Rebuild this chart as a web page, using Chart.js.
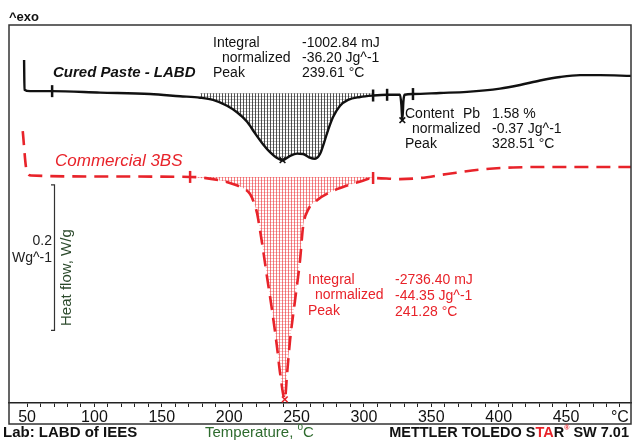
<!DOCTYPE html>
<html>
<head>
<meta charset="utf-8">
<script src="https://cdn.jsdelivr.net/npm/chart.js@4.4.0/dist/chart.umd.min.js"></script>
<style>
  html, body { margin: 0; padding: 0; background: #fff; }
  #wrap { width: 633px; height: 440px; }
</style>
</head>
<body>
<div id="wrap"><canvas id="dsc" width="633" height="440"></canvas></div>
<script>
// --- DATA: Cured Paste - LABD (temperature °C, heat flow W/g) ---
const curedTemp = [47.8, 48.1, 52.2, 68.6, 104.2, 141.3, 163.5, 178.4, 188.0, 198.4, 205.8, 213.3, 219.2, 225.1, 230.3, 235.5, 239.6, 245.2, 250.4, 254.8, 259.3, 263.7, 267.4, 270.4, 273.4, 277.1, 282.3, 288.2, 297.1, 306.8, 317.2, 324.6, 326.8, 327.8, 328.5, 329.3, 330.2, 336.4, 356.5, 376.5, 401.0, 415.9, 430.7, 445.6, 460.4, 475.3, 498.2];
const curedFlow = [0.352, 0.311, 0.309, 0.309, 0.307, 0.305, 0.302, 0.300, 0.297, 0.289, 0.280, 0.267, 0.251, 0.236, 0.225, 0.217, 0.214, 0.220, 0.223, 0.2225, 0.218, 0.216, 0.2225, 0.238, 0.2555, 0.2735, 0.289, 0.297, 0.301, 0.303, 0.304, 0.304, 0.304, 0.290, 0.269, 0.295, 0.304, 0.305, 0.3065, 0.308, 0.3125, 0.3175, 0.3236, 0.3285, 0.331, 0.331, 0.330];

// --- DATA: Commercial 3BS ---
const commTemp = [46.8, 49.6, 53.0, 104.0, 171.0, 195.5, 205.0, 211.0, 215.5, 218.5, 220.7, 222.6, 224.4, 228.1, 231.8, 235.5, 237.8, 241.3, 243.0, 245.2, 248.9, 252.6, 254.8, 258.5, 265.2, 274.9, 287.5, 298.6, 306.8, 326.8, 341.6, 361.7, 386.2, 410.7, 435.9, 498.2];
const commFlow = [0.254, 0.2005, 0.193, 0.1916, 0.191, 0.1854, 0.180, 0.175, 0.1675, 0.155, 0.141, 0.121, 0.100, 0.0533, 0.008, -0.043, -0.079, -0.115, -0.079, -0.0333, 0.0217, 0.0767, 0.122, 0.1455, 0.159, 0.170, 0.1792, 0.1854, 0.1895, 0.188, 0.1895, 0.195, 0.2012, 0.204, 0.2047, 0.2047];

// integration limits and baselines
const curedLimits = [178.4, 306.8];
const curedBaseline = 0.306;
const commLimits = [171.0, 306.8];
const commBaseline = 0.191;

// limit marks and peak marks
const curedTickTemp = [68.6, 306.8, 317.2, 336.4];
const curedTickFlow = [0.309, 0.303, 0.304, 0.305];
const commTickTemp = [171.0, 306.8];
const commTickFlow = [0.191, 0.1895];
const curedPeakTemp = [239.61, 328.51];
const curedPeakFlow = [0.214, 0.269];
const commPeakTemp = [241.28];
const commPeakFlow = [-0.115];

// axis ticks
const tickValues = [50, 60, 70, 80, 90, 100, 110, 120, 130, 140, 150, 160, 170, 180, 190, 200, 210, 220, 230, 240, 250, 260, 270, 280, 290, 300, 310, 320, 330, 340, 350, 360, 370, 380, 390, 400, 410, 420, 430, 440, 450, 460, 470, 480, 490];
const labelValues = [50, 100, 150, 200, 250, 300, 350, 400, 450, 490];
const labelTexts = ['50', '100', '150', '200', '250', '300', '350', '400', '450', '°C'];

const FONT = "'Liberation Sans', Arial, sans-serif";
const RED = '#e8232a';
const INK = '#111';

const pts = (xs, ys) => xs.map((x, i) => ({ x: x, y: ys[i] }));
const between = (xs, ys, lim) => pts(xs, ys).filter(p => p.x >= lim[0] && p.x <= lim[1]);

const canvas = document.getElementById('dsc');
const ctx = canvas.getContext('2d');

function hatch(dark, light) {
    const c = document.createElement('canvas');
    c.width = 3; c.height = 3;
    const g = c.getContext('2d');
    g.fillStyle = light; g.fillRect(0, 0, 3, 1);
    g.fillStyle = dark; g.fillRect(0, 0, 1, 3);
    return ctx.createPattern(c, 'repeat');
}

function put(text, x, y, font, color, align) {
    ctx.font = font;
    ctx.fillStyle = color;
    ctx.textAlign = align || 'left';
    ctx.textBaseline = 'alphabetic';
    ctx.fillText(text, x, y);
    return ctx.measureText(text).width;
}

const decor = {
    id: 'decor',
    beforeDraw(chart) {
        const c = chart.ctx;
        c.save();
        c.fillStyle = '#fff';
        c.fillRect(0, 0, chart.width, chart.height);
        c.restore();
    },
    afterDraw(chart) {
        const a = chart.chartArea;
        const y = chart.scales.y;
        ctx.save();

        // frame
        ctx.strokeStyle = '#333';
        ctx.lineWidth = 1.5;
        ctx.strokeRect(a.left, a.top, a.right - a.left, a.bottom + 21 - a.top);

        put('^exo', 9, 21, `bold 13px ${FONT}`, INK);

        // cured paste labels
        put('Cured Paste - LABD', 53, 77, `italic bold 15px ${FONT}`, INK);
        const f14 = `14px ${FONT}`;
        put('Integral', 213, 47, f14, INK);
        put('normalized', 222, 62, f14, INK);
        put('Peak', 213, 77, f14, INK);
        put('-1002.84 mJ', 302, 47, f14, INK);
        put('-36.20 Jg^-1', 302, 62, f14, INK);
        put('239.61 °C', 302, 77, f14, INK);

        put('Content', 405, 118, f14, INK);
        put('Pb', 463, 118, f14, INK);
        put('1.58 %', 492, 118, f14, INK);
        put('normalized', 412, 133, f14, INK);
        put('-0.37 Jg^-1', 492, 133, f14, INK);
        put('Peak', 405, 148, f14, INK);
        put('328.51 °C', 492, 148, f14, INK);

        // commercial labels
        put('Commercial 3BS', 55, 166, `italic 17px ${FONT}`, RED);
        put('Integral', 308, 284, f14, RED);
        put('normalized', 315, 299, f14, RED);
        put('Peak', 308, 315, f14, RED);
        put('-2736.40 mJ', 395, 284, f14, RED);
        put('-44.35 Jg^-1', 395, 300, f14, RED);
        put('241.28 °C', 395, 316, f14, RED);

        // 0.2 W/g scale bar
        const top = y.getPixelForValue(0.18);
        const bot = y.getPixelForValue(-0.02);
        ctx.strokeStyle = '#333';
        ctx.lineWidth = 1.2;
        ctx.beginPath();
        ctx.moveTo(51, top); ctx.lineTo(54.5, top); ctx.lineTo(54.5, bot); ctx.lineTo(51, bot);
        ctx.stroke();
        put('0.2', 52, 245, f14, '#222', 'right');
        put('Wg^-1', 52, 262, f14, '#222', 'right');
        ctx.save();
        ctx.translate(67, (top + bot) / 2 + 20);
        ctx.rotate(-Math.PI / 2);
        ctx.font = `15px ${FONT}`;
        ctx.fillStyle = '#2c4a2c';
        ctx.textAlign = 'center';
        ctx.textBaseline = 'middle';
        ctx.fillText('Heat flow, W/g', 0, 0);
        ctx.restore();

        // footer
        put('Lab: LABD of IEES', 3, 437, `bold 15px ${FONT}`, INK);
        const green = '#2e6b2e';
        let tx = 205;
        tx += put('Temperature, ', tx, 437, `15px ${FONT}`, green);
        tx += put('o', tx, 430, `10px ${FONT}`, green);
        put('C', tx, 437, `15px ${FONT}`, green);

        const fb = `bold 14.5px ${FONT}`;
        const parts = [
            ['METTLER TOLEDO S', fb, INK, 437],
            ['TA', fb, RED, 437],
            ['R', fb, INK, 437],
            ['®', `bold 7px ${FONT}`, RED, 430],
            [' SW 7.01', fb, INK, 437]
        ];
        let total = 0;
        parts.forEach(p => { ctx.font = p[1]; total += ctx.measureText(p[0]).width; });
        let mx = 629 - total;
        parts.forEach(p => { mx += put(p[0], mx, p[3], p[1], p[2]); });

        ctx.restore();
    }
};

new Chart(ctx, {
    type: 'line',
    data: {
        datasets: [
            {
                data: pts(curedTemp, curedFlow),
                borderColor: INK, borderWidth: 2.4,
                pointRadius: 0, fill: false,
                cubicInterpolationMode: 'monotone'
            },
            {
                data: pts(commTemp, commFlow),
                borderColor: RED, borderWidth: 2.6, borderDash: [14, 8],
                pointRadius: 0, fill: false,
                cubicInterpolationMode: 'monotone'
            },
            {
                data: pts(curedTickTemp, curedTickFlow),
                showLine: false, pointStyle: 'line', pointRotation: 90,
                pointRadius: 6, pointBorderWidth: 2.5, pointBorderColor: INK
            },
            {
                data: pts(commTickTemp, commTickFlow),
                showLine: false, pointStyle: 'line', pointRotation: 90,
                pointRadius: 6, pointBorderWidth: 2.5, pointBorderColor: RED
            },
            {
                data: pts(curedPeakTemp, curedPeakFlow),
                showLine: false, pointStyle: 'crossRot',
                pointRadius: 4, pointBorderWidth: 1.6, pointBorderColor: INK
            },
            {
                data: pts(commPeakTemp, commPeakFlow),
                showLine: false, pointStyle: 'crossRot',
                pointRadius: 4, pointBorderWidth: 1.6, pointBorderColor: RED
            },
            {
                data: between(curedTemp, curedFlow, curedLimits),
                borderWidth: 0, pointRadius: 0,
                backgroundColor: hatch('rgba(40,40,40,0.8)', 'rgba(110,110,110,0.45)'),
                fill: { value: curedBaseline },
                cubicInterpolationMode: 'monotone'
            },
            {
                data: between(commTemp, commFlow, commLimits),
                borderWidth: 0, pointRadius: 0,
                backgroundColor: hatch('rgba(235,45,50,0.6)', 'rgba(235,45,50,0.3)'),
                fill: { value: commBaseline },
                cubicInterpolationMode: 'monotone'
            }
        ]
    },
    options: {
        responsive: false,
        animation: false,
        devicePixelRatio: 1,
        layout: { autoPadding: false, padding: { left: 9, right: 2, top: 25, bottom: 0 } },
        plugins: {
            legend: { display: false },
            tooltip: { enabled: false }
        },
        events: [],
        scales: {
            x: {
                type: 'linear',
                min: 36.6,
                max: 498.2,
                afterBuildTicks: s => { s.ticks = tickValues.map(v => ({ value: v })); },
                afterFit: s => { s.height = 37; },
                grid: { drawOnChartArea: false, drawTicks: true, tickLength: 4, color: '#222' },
                border: { display: true, color: '#222', width: 1.5 },
                ticks: {
                    autoSkip: false,
                    maxRotation: 0,
                    padding: 1,
                    color: INK,
                    font: { family: FONT, size: 16 },
                    callback: v => {
                        const i = labelValues.indexOf(v);
                        return i < 0 ? '' : labelTexts[i];
                    }
                }
            },
            y: {
                display: false,
                min: -0.12,
                max: 0.40
            }
        }
    },
    plugins: [decor]
});
</script>
</body>
</html>
